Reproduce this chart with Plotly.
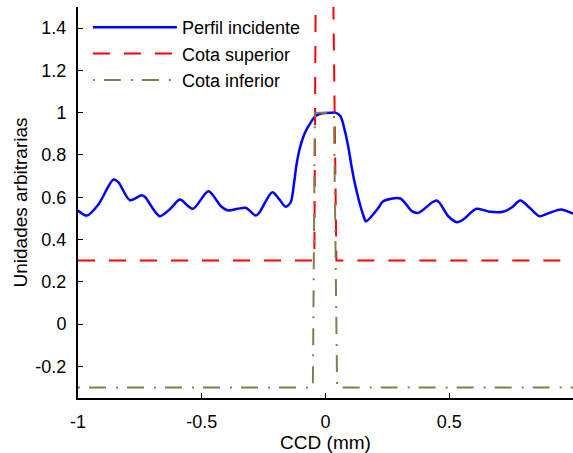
import plotly.graph_objects as go

# Perfil incidente (blue)
perfil_x = [-1.0, -0.964, -0.918, -0.857, -0.837, -0.790, -0.743, -0.730, -0.670, -0.630,
            -0.590, -0.581, -0.536, -0.473, -0.422, -0.396, -0.356, -0.322, -0.308, -0.281,
            -0.268, -0.215, -0.188, -0.161, -0.141, -0.127, -0.118, -0.105, -0.083, -0.060,
            -0.040, -0.014, 0.027, 0.040, 0.060, 0.080, 0.094, 0.105, 0.118, 0.134,
            0.154, 0.163, 0.214, 0.232, 0.302, 0.349, 0.375, 0.449, 0.496, 0.530,
            0.556, 0.610, 0.664, 0.717, 0.751, 0.787, 0.825, 0.865, 0.905, 0.952,
            0.992, 1.0]
perfil_y = [0.537, 0.513, 0.565, 0.684, 0.671, 0.586, 0.609, 0.602, 0.510, 0.542,
            0.589, 0.586, 0.545, 0.628, 0.557, 0.538, 0.545, 0.550, 0.538, 0.513,
            0.526, 0.624, 0.592, 0.555, 0.575, 0.668, 0.747, 0.826, 0.905, 0.953,
            0.984, 0.997, 1.0, 1.0, 0.984, 0.905, 0.826, 0.747, 0.668, 0.589,
            0.510, 0.486, 0.550, 0.580, 0.594, 0.534, 0.526, 0.584, 0.510, 0.482,
            0.494, 0.545, 0.531, 0.531, 0.550, 0.584, 0.550, 0.510, 0.526, 0.542,
            0.526, 0.522]

# Cota superior (red dashed)
sup_x = [-1.0, -0.045, -0.038, 0.027, 0.044, 1.0]
sup_y = [0.3, 0.3, 2.0, 2.0, 0.3, 0.3]

# Cota inferior (olive dash-dot)
inf_x = [-1.0, -0.051, -0.043, 0.034, 0.047, 1.0]
inf_y = [-0.3, -0.3, 1.0, 1.0, -0.3, -0.3]

x_ticks = [-1, -0.5, 0, 0.5, 1]
x_ticktext = ["-1", "-0.5", "0", "0.5", "1"]
y_ticks = [-0.2, 0, 0.2, 0.4, 0.6, 0.8, 1.0, 1.2, 1.4]
y_ticktext = ["-0.2", "0", "0.2", "0.4", "0.6", "0.8", "1", "1.2", "1.4"]

x_range = [-1, 1]
y_range = [-0.35, 1.5]

FONT = "Liberation Sans, Arial, sans-serif"

fig = go.Figure()
fig.add_trace(go.Scatter(x=perfil_x, y=perfil_y, mode="lines", name="Perfil incidente",
                         line=dict(color="#0000ff", width=2.5, shape="spline", smoothing=0.8)))
fig.add_trace(go.Scatter(x=sup_x, y=sup_y, mode="lines", name="Cota superior",
                         line=dict(color="#ff0000", width=2, dash="17px,14px")))
fig.add_trace(go.Scatter(x=inf_x, y=inf_y, mode="lines", name="Cota inferior",
                         line=dict(color="rgb(128,128,77)", width=2, dash="2px,9px,17px,10px")))

fig.update_layout(
    width=573, height=453,
    margin=dict(l=78, r=0, t=7, b=55),
    paper_bgcolor="white", plot_bgcolor="white",
    font=dict(family=FONT, size=18, color="black"),
    showlegend=True,
    legend=dict(x=0.02, y=0.995, xanchor="left", yanchor="top",
                bgcolor="rgba(0,0,0,0)", borderwidth=0,
                font=dict(family=FONT, size=18, color="black"),
                itemwidth=84),
    xaxis=dict(range=x_range, tickvals=x_ticks, ticktext=x_ticktext,
               ticks="inside", ticklen=5, tickcolor="black", tickwidth=1,
               showline=True, linecolor="black", linewidth=2, mirror=False,
               showgrid=False, zeroline=False, ticklabelstandoff=6,
               title=dict(text="CCD (mm)", font=dict(size=19), standoff=2)),
    yaxis=dict(range=y_range, tickvals=y_ticks, ticktext=y_ticktext,
               ticks="inside", ticklen=5, tickcolor="black", tickwidth=1,
               showline=True, linecolor="black", linewidth=2, mirror=False,
               showgrid=False, zeroline=False, ticklabelstandoff=6,
               title=dict(text="Unidades arbitrarias", font=dict(size=19), standoff=3)),
    xaxis2=dict(range=x_range, tickvals=x_ticks, overlaying="x", side="top",
                ticks="inside", ticklen=5, tickcolor="black", tickwidth=1,
                showline=True, linecolor="black", linewidth=1,
                showticklabels=False, showgrid=False, zeroline=False),
    yaxis2=dict(range=y_range, tickvals=y_ticks, overlaying="y", side="right",
                ticks="inside", ticklen=5, tickcolor="black", tickwidth=1,
                showline=False, showticklabels=False, showgrid=False, zeroline=False),
)

fig.write_html("out.html")
